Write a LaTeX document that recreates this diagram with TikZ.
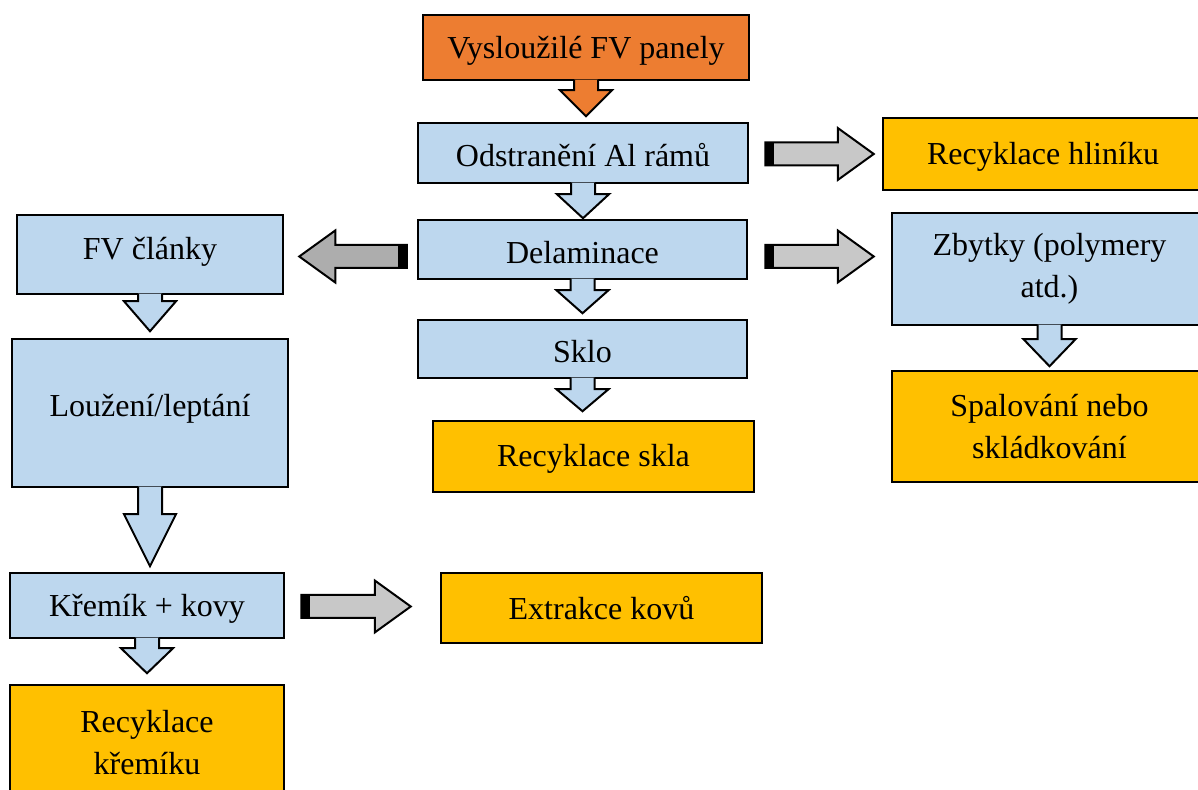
\documentclass[tikz,border=0pt]{standalone}
\usepackage{fontspec}
\setmainfont{Liberation Serif}
\usetikzlibrary{calc}

\definecolor{panelorange}{HTML}{ED7D31}
\definecolor{stepblue}{HTML}{BDD7EE}
\definecolor{productgold}{HTML}{FFC000}
\definecolor{arrowgray}{HTML}{C8C8C8}
\definecolor{arrowdark}{HTML}{ADADAD}

% block arrow hanging under a box: node, fill, shaft, head
\newcommand{\flowdown}[4]{%
  \draw [flowline, fill=#2] ($(#1.south)+(-12,1.5)$) -- ++(0,-#3-1.5) -- ++(-14,0)
    -- ($(#1.south)+(0,-#3-#4)$) -- ($(#1.south)+(26,-#3)$) -- ++(-14,0) -- ++(0,#3+1.5);}

% horizontal block arrow with dark tail: tail, tip, fill
\newcommand{\flowside}[3]{%
  \draw [flowline, fill=#3] let \p1=#1, \p2=#2, \n1={sign(\x2-\x1)} in
    (\x1,\y1+11.5pt) -- (\x2-\n1*36pt,\y1+11.5pt) -- (\x2-\n1*36pt,\y1+26pt) -- (\x2,\y1)
    -- (\x2-\n1*36pt,\y1-26pt) -- (\x2-\n1*36pt,\y1-11.5pt) -- (\x1,\y1-11.5pt) -- cycle;
  \fill let \p1=#1, \p2=#2, \n1={sign(\x2-\x1)} in
    (\x1,\y1-11.5pt) rectangle (\x1+\n1*9pt,\y1+11.5pt);}

\begin{document}
\begin{tikzpicture}
	[x=1pt, y=1pt,
	box/.style={draw, line width=2.5pt, inner sep=0pt, align=center, font=\fontsize{32}{42}\selectfont},
	source/.style={box, fill=panelorange},
	stepbox/.style={box, fill=stepblue},
	product/.style={box, fill=productgold},
	textbase/.style={text height=#1, text depth=0pt},
	flowline/.style={draw=black, line width=2pt}]

\useasboundingbox (0,0) rectangle (1198,789);
\clip (0,0) rectangle (1198,789);

% middle column
\node [source, textbase=23pt, minimum width=326pt, minimum height=65pt] (panely) at (586,741.5) {Vysloužilé FV panely};
\node [stepbox, textbase=28pt, minimum width=330pt, minimum height=60pt] (ramy) at (583,636) {Odstranění Al rámů};
\node [stepbox, textbase=29pt, minimum width=329pt, minimum height=59pt] (delam) at (582.5,539.5) {Delaminace};
\node [stepbox, textbase=28pt, minimum width=329pt, minimum height=58pt] (sklo) at (582.5,440) {Sklo};
\node [product, textbase=21pt, minimum width=321pt, minimum height=71pt] (skla) at (593.5,332.5) {Recyklace skla};
\node [product, textbase=24pt, minimum width=321pt, minimum height=70pt] (kovu) at (601.5,181) {Extrakce kovů};

% right column
\node [product, textbase=22pt, minimum width=320pt, minimum height=72pt] (hlinik) at (1043,635) {Recyklace hliníku};
\node [stepbox, minimum width=315pt, minimum height=112pt] (zbytky) at (1049.5,520) {Zbytky (polymery\\atd.)};
\node [product, minimum width=315pt, minimum height=111pt] (spal) at (1049.5,362.5) {Spalování nebo\\skládkování};

% left column
\node [stepbox, textbase=11pt, minimum width=266pt, minimum height=79pt] (clanky) at (150,534.5) {FV články};
\node [stepbox, textbase=8pt, minimum width=276pt, minimum height=148pt] (louzeni) at (150,376) {Loužení/leptání};
\node [stepbox, textbase=23pt, minimum width=274pt, minimum height=65pt] (krem) at (147,183.5) {Křemík + kovy};
\node [product, minimum width=274pt, minimum height=115pt] (kremiku) at (147,46.5) {Recyklace\\křemíku};

\flowdown{panely}{panelorange}{9}{26}
\flowdown{ramy}{stepblue}{10}{24}
\flowdown{delam}{stepblue}{10}{23}
\flowdown{sklo}{stepblue}{10}{22}
\flowdown{zbytky}{stepblue}{13}{27}
\flowdown{clanky}{stepblue}{6}{30}
\flowdown{louzeni}{stepblue}{26}{52}
\flowdown{krem}{stepblue}{9}{25}

\flowside{($(ramy.east)+(16,-1)$)}{($(hlinik.west)+(-8,0)$)}{arrowgray}
\flowside{($(delam.east)+(17,-7)$)}{($(zbytky.west)+(-17,0)$)}{arrowgray}
\flowside{($(delam.west)+(-10,-7)$)}{($(clanky.east)+(15,0)$)}{arrowdark}
\flowside{($(krem.east)+(16,-1)$)}{($(kovu.west)+(-29,0)$)}{arrowgray}

\end{tikzpicture}
\end{document}
